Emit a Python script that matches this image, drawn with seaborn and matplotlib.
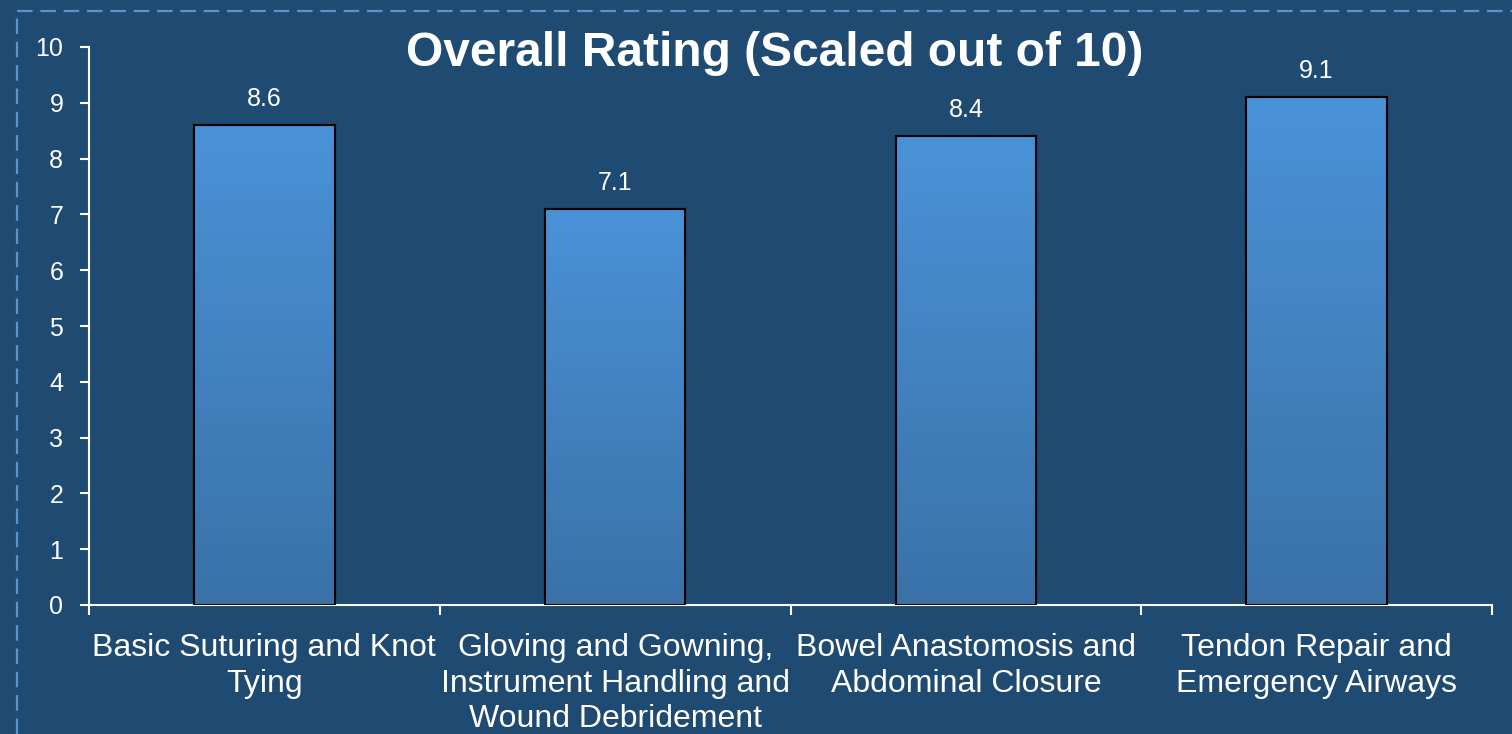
import numpy as np
import pandas as pd
import seaborn as sns
import matplotlib.pyplot as plt
from matplotlib.colors import LinearSegmentedColormap
from matplotlib.patches import Rectangle

# Data
categories = [
    "Basic Suturing and Knot\nTying",
    "Gloving and Gowning,\nInstrument Handling and\nWound Debridement",
    "Bowel Anastomosis and\nAbdominal Closure",
    "Tendon Repair and\nEmergency Airways",
]
ratings = [8.6, 7.1, 8.4, 9.1]
y_ticks = list(range(0, 11))

df = pd.DataFrame({"module": categories, "rating": ratings})

bg = "#1f4a72"
sns.set_style("white")
plt.rcParams["font.family"] = ["Liberation Sans", "DejaVu Sans"]

fig = plt.figure(figsize=(15.12, 7.34), dpi=100, facecolor=bg)
ax = fig.add_axes([89 / 1512, 1 - 605 / 734, (1492 - 89) / 1512, (605 - 47) / 734])
ax.set_facecolor(bg)

sns.barplot(data=df, x="module", y="rating", color="#4a90d5", width=0.4,
            edgecolor="black", linewidth=1.5, ax=ax, zorder=2)

# Gradient fill on bars
cmap = LinearSegmentedColormap.from_list("bar", ["#3a72a8", "#4a92d8"])
grad = np.linspace(0, 1, 256).reshape(-1, 1)
for bar in ax.patches:
    x0, y0 = bar.get_x(), bar.get_y()
    w, h = bar.get_width(), bar.get_height()
    im = ax.imshow(grad, cmap=cmap, origin="lower", aspect="auto",
                   extent=(x0, x0 + w, y0, y0 + h), zorder=2.5)
    im.set_clip_path(bar)
    ax.add_patch(Rectangle((x0, y0), w, h, fill=False, edgecolor="black",
                           linewidth=1.5, zorder=3))

ax.set_xlim(-0.5, len(categories) - 0.5)
ax.set_ylim(0, 10)
ax.set_yticks(y_ticks)

for c in ax.containers:
    ax.bar_label(c, labels=[f"{v:.1f}" for v in ratings], padding=10,
                 color="white", fontsize=18)

ax.set_xlabel("")
ax.set_ylabel("")
ax.tick_params(axis="y", colors="white", labelsize=18, length=6.5, width=1.5,
               direction="out", left=True, pad=12)
ax.set_xticks(np.arange(len(categories)))
ax.set_xticklabels(categories, color="white", fontsize=23, linespacing=1.25)
ax.tick_params(axis="x", length=0, pad=20)
# category boundary ticks
ax.set_xticks(np.arange(-0.5, len(categories)), minor=True)
ax.tick_params(axis="x", which="minor", length=7, width=1.5, colors="white",
               direction="out", bottom=True)

for side in ["top", "right"]:
    ax.spines[side].set_visible(False)
for side in ["left", "bottom"]:
    ax.spines[side].set_color("white")
    ax.spines[side].set_linewidth(1.5)

fig.text(775 / 1512, 1 - 54 / 734, "Overall Rating (Scaled out of 10)",
         color="white", fontsize=34.5, fontweight="bold", ha="center", va="center")

# dashed frame
frame_kw = dict(color="#5b93cc", linestyle=(0, (7, 3.5)), linewidth=1.6)
fig.add_artist(plt.Line2D([17 / 1512, 1], [1 - 11 / 734] * 2, **frame_kw))
fig.add_artist(plt.Line2D([17 / 1512] * 2, [0, 1 - 11 / 734], **frame_kw))

fig.savefig("out.png", dpi=100, facecolor=bg)
